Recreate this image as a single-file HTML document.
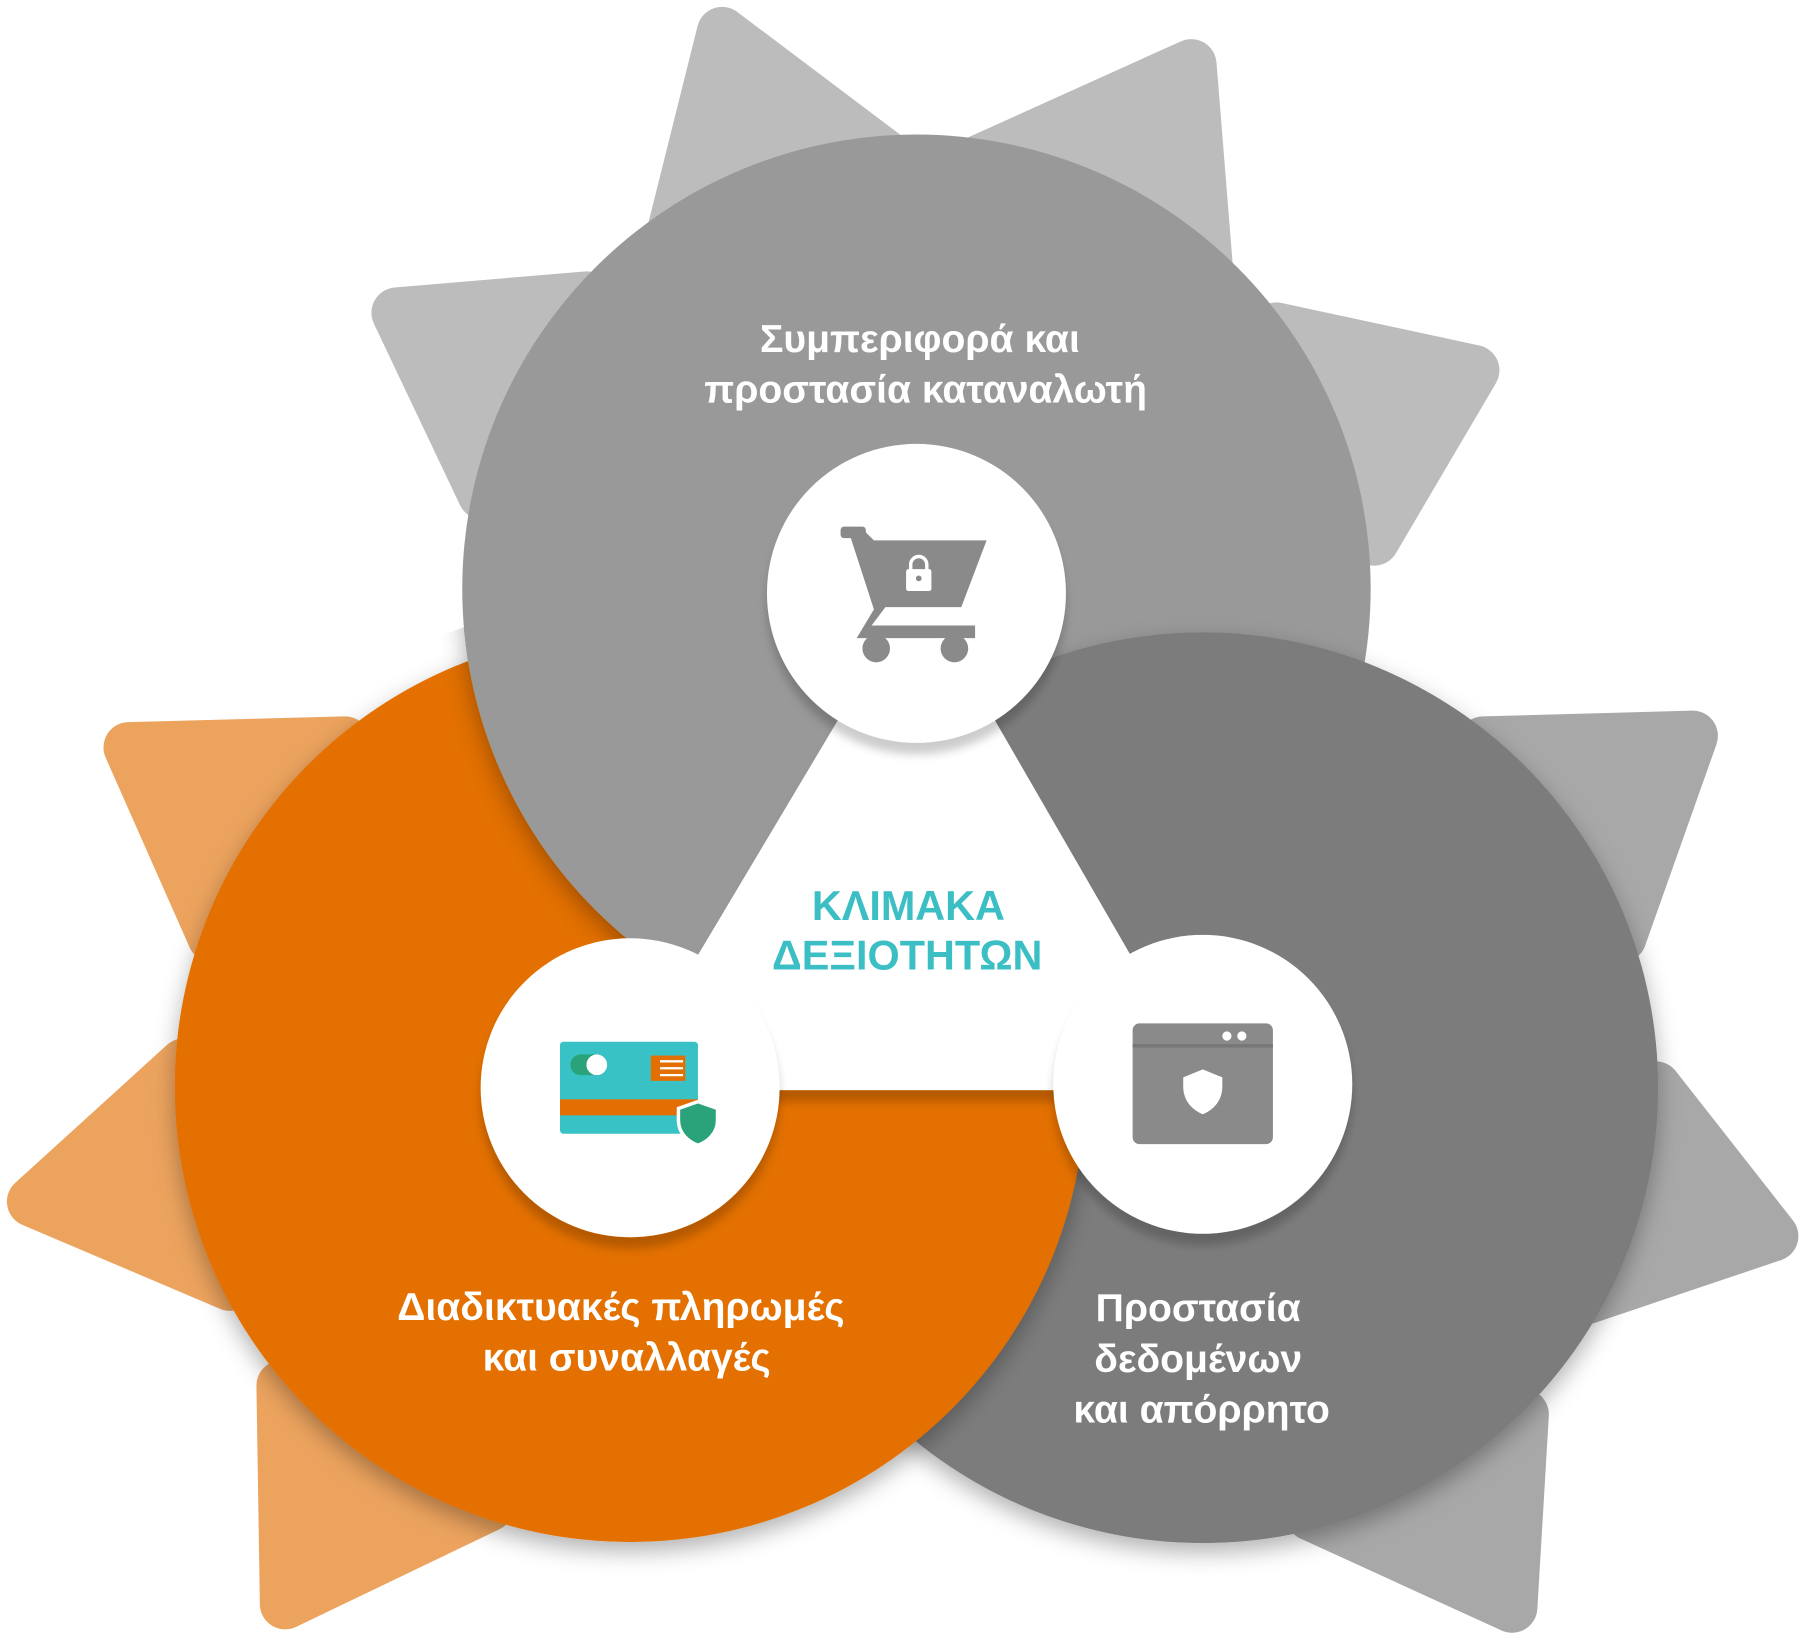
<!DOCTYPE html>
<html><head><meta charset="utf-8"><style>
html,body{margin:0;padding:0;background:#fff;}
svg{display:block}
text{font-family:"Liberation Sans","DejaVu Sans",sans-serif;}
</style></head><body>
<svg width="1803" height="1642" viewBox="0 0 1568 1428" preserveAspectRatio="none" xmlns="http://www.w3.org/2000/svg">
<defs>
<clipPath id="orc"><circle cx="548" cy="945" r="425"/></clipPath>
<clipPath id="lft"><rect x="0" y="0" width="770" height="1428"/></clipPath>
<filter id="sh" x="-20%" y="-20%" width="140%" height="140%"><feDropShadow dx="0" dy="8" stdDeviation="10" flood-color="#000" flood-opacity="0.3"/></filter>
<filter id="sh2" x="-20%" y="-20%" width="140%" height="140%"><feDropShadow dx="0" dy="10" stdDeviation="4" flood-color="#000" flood-opacity="0.2"/></filter>
</defs>
<g stroke-linejoin="round" stroke-width="44">
<g fill="#bcbcbc" stroke="#bcbcbc">
<polygon points="585,200 628,28 790,150"/>
<polygon points="850,140 1036,56 1050,230"/>
<polygon points="1110,285 1282,322 1195,470"/>
<polygon points="510,258 345,272 420,430"/>
</g>
<g fill="#eca35e" stroke="#eca35e">
<polygon points="300,645 112,650 185,815"/>
<polygon points="160,925 28,1045 200,1118"/>
<polygon points="245,1205 248,1395 425,1310"/>
</g>
<g fill="#a8a8a8" stroke="#a8a8a8">
<polygon points="1290,645 1472,640 1410,815"/>
<polygon points="1440,945 1542,1075 1355,1138"/>
<polygon points="1325,1230 1315,1398 1140,1318"/>
</g>
</g>
<circle cx="797" cy="512" r="395" fill="#999999"/>
<circle cx="1046" cy="946" r="396" fill="#7b7b7b" filter="url(#sh)"/>
<circle cx="548" cy="945" r="396" fill="#e36f02" filter="url(#sh)"/>
<g clip-path="url(#lft)"><g clip-path="url(#orc)"><circle cx="797" cy="512" r="395" fill="#999999" filter="url(#sh)"/></g></g>
<polygon points="798,510 537,948 1051,948" fill="#fff" filter="url(#sh2)"/>
<circle cx="797" cy="516" r="130" fill="#fff" filter="url(#sh2)"/>
<circle cx="548" cy="946" r="130" fill="#fff" filter="url(#sh2)"/>
<circle cx="1046" cy="943" r="130" fill="#fff" filter="url(#sh2)"/>
<g fill="#8a8a8a">
<rect x="731" y="458" width="22" height="10" rx="3"/>
<polygon points="738,462 752,462 760,470 858,470 836,528 770,528 758,544 848,544 848,555 745,555 760,530"/>
<circle cx="762" cy="564" r="12"/><circle cx="830" cy="564" r="12"/>
</g>
<rect x="788" y="495" width="22" height="19" rx="2" fill="#fff"/>
<path d="M792,496 v-5 a7,7 0 0 1 14,0 v5" fill="none" stroke="#fff" stroke-width="3"/>
<circle cx="799" cy="503" r="2.5" fill="#8a8a8a"/>
<rect x="487" y="906" width="120" height="80" rx="3" fill="#38c2c6"/>
<rect x="487" y="956" width="120" height="14" fill="#e36f02"/>
<rect x="496" y="917" width="32" height="18" rx="9" fill="#2aa37a"/>
<circle cx="519" cy="926" r="9" fill="#fff"/>
<rect x="566" y="918" width="30" height="22" fill="#e36f02"/>
<path d="M574,923 h20 M574,929 h20 M574,935 h20" stroke="#fff" stroke-width="2"/>
<path d="M607,958 l17,6 v10 c0,12 -9,19 -17,22 c-8,-3 -17,-10 -17,-22 v-10 z" fill="#2aa37a" stroke="#fff" stroke-width="3"/>
<rect x="985" y="890" width="122" height="105" rx="6" fill="#8a8a8a"/>
<rect x="985" y="908" width="122" height="3" fill="#777"/>
<circle cx="1067" cy="901" r="4" fill="#fff"/><circle cx="1080" cy="901" r="4" fill="#fff"/>
<path d="M1046,930 l17,7 v8 c0,13 -9,21 -17,24 c-8,-3 -17,-11 -17,-24 v-8 z" fill="#fff"/>
<g fill="#fff" font-size="34" text-anchor="middle" font-weight="bold">
<text x="800" y="306">Συμπεριφορά και</text>
<text x="805" y="350">προστασία καταναλωτή</text>
<text x="540" y="1148">Διαδικτυακές πληρωμές</text>
<text x="545" y="1192">και συναλλαγές</text>
<text x="1042" y="1149">Προστασία</text>
<text x="1042" y="1193">δεδομένων</text>
<text x="1045" y="1237">και απόρρητο</text>
</g>
<g fill="#3bbfc4" font-size="36" text-anchor="middle" font-weight="bold">
<text x="790" y="800">ΚΛΙΜΑΚΑ</text>
<text x="789" y="843">ΔΕΞΙΟΤΗΤΩΝ</text>
</g>
</svg>
</body></html>
